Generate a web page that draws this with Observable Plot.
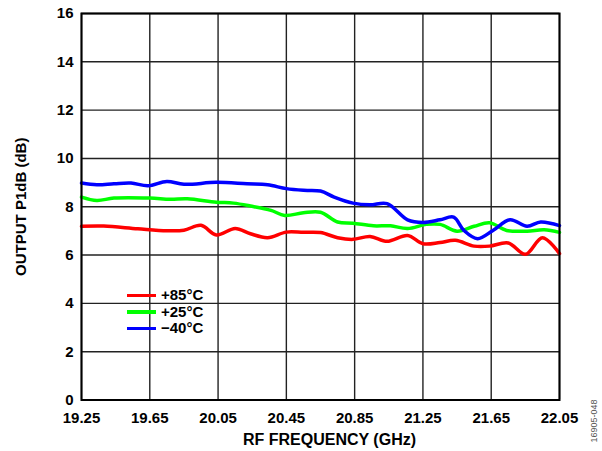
<!DOCTYPE html>
<html>
<head>
<meta charset="utf-8">
<script src="https://cdn.jsdelivr.net/npm/d3@7"></script>
<script src="https://cdn.jsdelivr.net/npm/@observablehq/plot@0.6"></script>
<style>
  body { margin: 0; background: #fff; }
  #wrap { position: relative; width: 602px; height: 451px; font-family: "Liberation Sans", Arial, sans-serif; }
  #legend { position: absolute; left: 127px; top: 287px; font-weight: bold; font-size: 15px; line-height: 16.6px; }
  .item { display: flex; align-items: center; }
  .sw { width: 29px; height: 3.5px; margin-right: 5px; }
  #code { position: absolute; left: 594px; top: 421px; font-size: 9px; color: #555; transform: translate(-50%, -50%) rotate(-90deg); white-space: nowrap; }
</style>
</head>
<body>
<div id="wrap"></div>
<script>
const xTicks = [19.25, 19.65, 20.05, 20.45, 20.85, 21.25, 21.65, 22.05];
const yTicks = [0, 2, 4, 6, 8, 10, 12, 14, 16];
const xTitle = "RF FREQUENCY (GHz)";
const yTitle = "OUTPUT P1dB (dB)";

const seriesNames = ["+85°C", "+25°C", "\u221240°C"];
const seriesColors = ["#ff0000", "#00ff00", "#0000ff"];

const redX = [19.25, 19.38, 19.58, 19.75, 19.85, 19.95, 20.04, 20.15, 20.24, 20.34, 20.45, 20.55, 20.65, 20.75, 20.84, 20.94, 21.04, 21.16, 21.25, 21.35, 21.44, 21.55, 21.64, 21.75, 21.85, 21.95, 22.05];
const redY = [7.19, 7.20, 7.09, 7.01, 7.03, 7.23, 6.83, 7.10, 6.88, 6.72, 6.95, 6.94, 6.93, 6.72, 6.65, 6.77, 6.57, 6.81, 6.47, 6.52, 6.61, 6.37, 6.37, 6.50, 6.03, 6.72, 6.06];

const greenX = [19.25, 19.34, 19.44, 19.65, 19.77, 19.87, 20.04, 20.14, 20.24, 20.36, 20.44, 20.55, 20.65, 20.75, 20.84, 20.96, 21.06, 21.16, 21.27, 21.35, 21.45, 21.55, 21.64, 21.74, 21.86, 21.96, 22.05];
const greenY = [8.40, 8.26, 8.36, 8.36, 8.31, 8.33, 8.19, 8.15, 8.03, 7.85, 7.64, 7.75, 7.77, 7.37, 7.32, 7.21, 7.21, 7.10, 7.27, 7.27, 6.99, 7.19, 7.34, 7.02, 6.99, 7.05, 6.94];

const blueX = [19.25, 19.34, 19.44, 19.54, 19.64, 19.75, 19.85, 20.04, 20.22, 20.34, 20.45, 20.55, 20.65, 20.73, 20.84, 20.94, 21.04, 21.16, 21.25, 21.35, 21.43, 21.49, 21.57, 21.66, 21.76, 21.86, 21.94, 22.05];
const blueY = [8.98, 8.91, 8.95, 8.98, 8.87, 9.05, 8.93, 9.01, 8.95, 8.91, 8.75, 8.68, 8.65, 8.40, 8.15, 8.08, 8.13, 7.46, 7.35, 7.46, 7.57, 7.02, 6.68, 7.02, 7.46, 7.19, 7.37, 7.22];

const toRows = (xs, ys, s) => xs.map((x, i) => ({x, y: ys[i], s}));
const data = [
  ...toRows(redX, redY, seriesNames[0]),
  ...toRows(greenX, greenY, seriesNames[1]),
  ...toRows(blueX, blueY, seriesNames[2])
];

const chart = Plot.plot({
  width: 602, height: 451,
  marginLeft: 81, marginRight: 43, marginTop: 13, marginBottom: 51.5,
  style: { fontFamily: "'Liberation Sans', Arial, sans-serif", fontWeight: "bold", fontSize: "15px", color: "#000", background: "#fff" },
  x: { domain: [19.25, 22.05] },
  y: { domain: [0, 16] },
  color: { domain: seriesNames, range: seriesColors },
  marks: [
    Plot.gridX(xTicks, { stroke: "#222", strokeOpacity: 1, strokeWidth: 1.4 }),
    Plot.gridY(yTicks, { stroke: "#222", strokeOpacity: 1, strokeWidth: 1.4 }),
    Plot.line(data, { x: "x", y: "y", z: "s", stroke: "s", strokeWidth: 3.5, curve: "catmull-rom" }),
    Plot.frame({ stroke: "#000", strokeWidth: 2 }),
    Plot.axisX(xTicks, { tickSize: 0, tickPadding: 12, tickFormat: d => d.toFixed(2), label: null, fontSize: 15 }),
    Plot.axisY(yTicks, { tickSize: 0, tickPadding: 8, label: yTitle, labelAnchor: "center", labelArrow: "none", labelOffset: 66, fontSize: 15 }),
    Plot.text([xTitle], { frameAnchor: "bottom", lineAnchor: "middle", dy: 40, dx: 9, fontSize: 16, fontWeight: "bold" })
  ]
});

const wrap = document.getElementById("wrap");
wrap.appendChild(chart);

const legend = document.createElement("div");
legend.id = "legend";
seriesNames.forEach((n, i) => {
  const it = document.createElement("div");
  it.className = "item";
  const sw = document.createElement("span");
  sw.className = "sw";
  sw.style.background = seriesColors[i];
  const t = document.createElement("span");
  t.textContent = n;
  it.appendChild(sw); it.appendChild(t);
  legend.appendChild(it);
});
wrap.appendChild(legend);

const code = document.createElement("div");
code.id = "code";
code.textContent = "16905-048";
wrap.appendChild(code);
</script>
</body>
</html>
